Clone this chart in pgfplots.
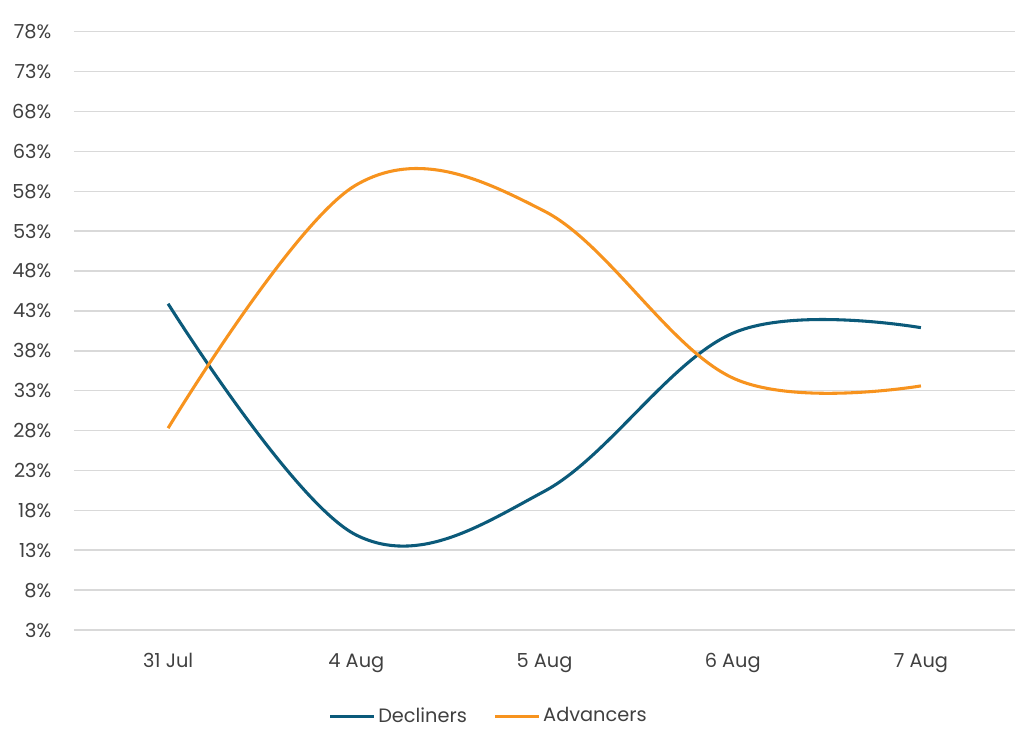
\documentclass[border=0pt]{standalone}
\usepackage{pgfplots}
\pgfplotsset{compat=1.18}
\usepackage{fontspec}
\setmainfont{Poppins}
\definecolor{decl}{HTML}{0B5A7A}
\definecolor{adv}{HTML}{F7931E}
\definecolor{gridc}{HTML}{D9D9D9}
\definecolor{txt}{HTML}{404040}
\begin{document}
\fontsize{14.5}{17}\selectfont
\begin{tikzpicture}
\path[use as bounding box] (-55.5pt,-78.75pt) rectangle (712.5pt,472.5pt);
\begin{axis}[
  scale only axis,
  width=705.75pt, height=448.7pt,
  xmin=-0.5, xmax=4.5,
  ymin=3, ymax=78,
  xtick={0,1,2,3,4},
  xticklabels={31 Jul,4 Aug,5 Aug,6 Aug,7 Aug},
  ytick={3,8,13,18,23,28,33,38,43,48,53,58,63,68,73,78},
  yticklabels={3\%,8\%,13\%,18\%,23\%,28\%,33\%,38\%,43\%,48\%,53\%,58\%,63\%,68\%,73\%,78\%},
  axis line style={draw=none},
  major tick length=0pt,
  ymajorgrids,
  grid style={gridc, line width=1.1pt},
  tick label style={font=\fontsize{14.5}{17}\selectfont, text=txt},
  yticklabel style={xshift=-12pt},
  xticklabel style={yshift=-12.5pt},
  /pgf/number format/assume math mode=true,
  legend style={
    at={(0.441,-0.144)}, anchor=center,
    draw=none, fill=none,
    legend columns=2,
    font=\fontsize{14.5}{17}\selectfont,
    text=txt,
    /tikz/every even column/.append style={column sep=18pt},
  },
  legend image code/.code={\draw[#1, line width=2.25pt] (0pt,0pt) -- (33pt,0pt);},
  legend cell align=left,
  clip=false,
]
\addplot[decl, line width=2.3pt, smooth, tension=0.6] coordinates {
  (0,43.9) (1,14.9) (2,20.4) (3,40.2) (4,40.9)
};
\addlegendentry{Decliners}
\addplot[adv, line width=2.3pt, smooth, tension=0.6] coordinates {
  (0,28.3) (1,58.8) (2,55.5) (3,34.6) (4,33.6)
};
\addlegendentry{Advancers}
\end{axis}
\end{tikzpicture}
\end{document}
